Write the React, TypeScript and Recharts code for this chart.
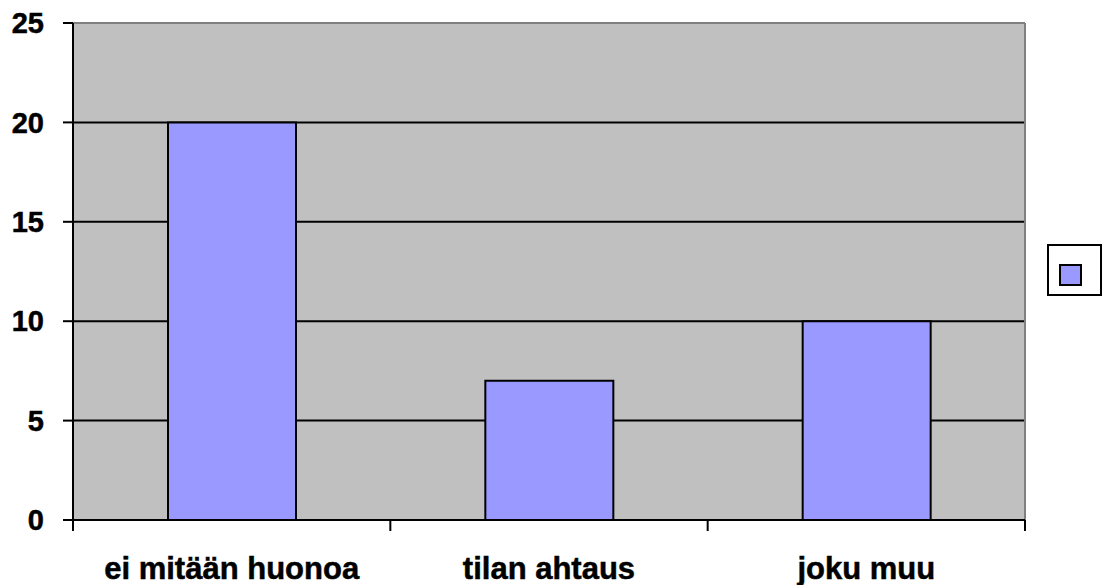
import React from 'react';
import { BarChart, Bar, XAxis, YAxis, CartesianGrid, Legend, ReferenceLine } from 'recharts';

const categories = ['ei mitään huonoa', 'tilan ahtaus', 'joku muu'];
const values = [20, 7, 10];
const yTicks = [0, 5, 10, 15, 20, 25];

const data = categories.map((name, i) => ({ name, pos: i + 0.5, value: values[i] }));
// ticks on category boundaries (0..3) and category centres (0.5, 1.5, 2.5)
const xTicks = categories.flatMap((_, i) => [i, i + 0.5]).concat(categories.length);

const FONT = '"Liberation Sans", Arial, sans-serif';

const XTick = (props: any) => {
  const { x, y, payload } = props;
  const v = payload.value as number;
  if (Number.isInteger(v)) {
    return <line x1={x} x2={x} y1={y} y2={y + 11} stroke="#000" strokeWidth={2} />;
  }
  return (
    <text
      x={x}
      y={y + 59}
      textAnchor="middle"
      fill="#000"
      stroke="#000"
      strokeWidth={0.5}
      fontSize={31}
      fontWeight="bold"
      fontFamily={FONT}
    >
      {categories[Math.floor(v)]}
    </text>
  );
};

const LegendBox = () => (
  <div style={{ width: 79, height: 54, position: 'relative' }}>
    <div
      style={{
        position: 'absolute',
        left: 22,
        top: 0,
        width: 51,
        height: 48,
        border: '2px solid #000',
        background: '#fff',
      }}
    >
      <div
        style={{
          position: 'absolute',
          left: 10,
          top: 18,
          width: 19,
          height: 18,
          border: '2px solid #000',
          background: '#9999ff',
        }}
      />
    </div>
  </div>
);

export default function App() {
  return (
    <div style={{ position: 'fixed', left: 0, top: 0, background: '#fff', fontFamily: FONT }}>
      <BarChart width={1104} height={585} data={data} margin={{ top: 23, right: 0, left: 0, bottom: 0 }}>
        <CartesianGrid vertical={false} fill="#c0c0c0" fillOpacity={1} stroke="#000" strokeWidth={2} />
        <XAxis
          type="number"
          dataKey="pos"
          domain={[0, categories.length]}
          ticks={xTicks}
          tick={<XTick />}
          tickLine={false}
          tickSize={0}
          tickMargin={0}
          height={65}
          stroke="#000"
          strokeWidth={2}
          interval={0}
          allowDecimals
        />
        <YAxis
          domain={[0, 25]}
          ticks={yTicks}
          width={73}
          tickSize={10}
          tickMargin={19}
          stroke="#000"
          strokeWidth={2}
          tick={{ fill: '#000', stroke: '#000', strokeWidth: 0.5, fontSize: 29, fontWeight: 'bold', fontFamily: FONT }}
          interval={0}
        />
        <ReferenceLine y={25} stroke="#808080" strokeWidth={2} />
        <ReferenceLine x={3} stroke="#808080" strokeWidth={2} />
        <Bar
          dataKey="value"
          barSize={128}
          fill="#9999ff"
          stroke="#000"
          strokeWidth={2}
          isAnimationActive={false}
        />
        <Legend
          layout="vertical"
          align="right"
          verticalAlign="middle"
          content={() => <LegendBox />}
          wrapperStyle={{ top: 244, right: 0 }}
        />
      </BarChart>
    </div>
  );
}
